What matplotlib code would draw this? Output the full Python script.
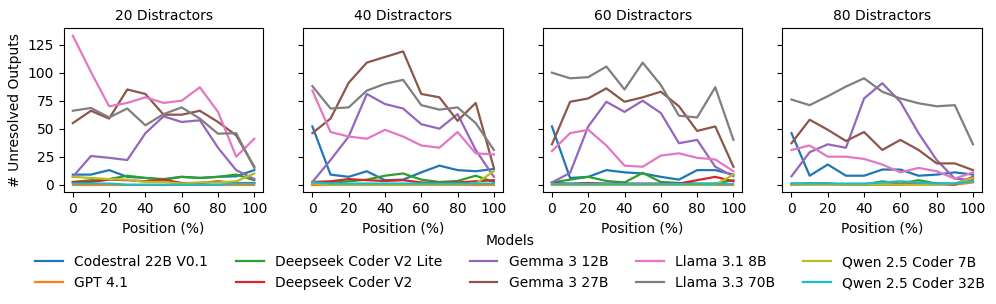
import numpy as np
import matplotlib
matplotlib.use("Agg")
import matplotlib.pyplot as plt

positions = [0, 10, 20, 30, 40, 50, 60, 70, 80, 90, 100]
distractors = [20, 40, 60, 80]

models = ["Codestral 22B V0.1", "GPT 4.1", "Deepseek Coder V2 Lite", "Deepseek Coder V2",
          "Gemma 3 12B", "Gemma 3 27B", "Llama 3.1 8B", "Llama 3.3 70B",
          "Qwen 2.5 Coder 7B", "Qwen 2.5 Coder 32B"]

# unresolved outputs per model, one list per distractor count
codestral = [
    [9, 9, 13, 7, 6, 4.5, 7, 6, 7, 7.5, 13],
    [52, 9, 7, 12, 4, 4.5, 11, 17, 13, 12, 14],
    [52, 6, 7, 13, 11, 10, 7, 4.5, 13, 13, 9],
    [46, 8, 18, 8, 8, 13.5, 13.5, 8, 9, 11, 9],
]
gpt41 = [
    [0, 0, 0, 0, 0, 0, 0, 0, 0, 0, 0],
    [0, 0, 0, 0, 0, 0, 0, 0, 0, 0, 0],
    [0, 0, 0, 0, 0, 0, 0, 0, 0, 0, 0],
    [0, 0, 0, 0, 0, 0, 0, 0, 0, 0, 2],
]
ds_lite = [
    [2.4, 4, 5, 8, 6, 5, 7, 6, 7, 9, 4],
    [1, 1.5, 3, 4.5, 8, 10, 4.5, 2.4, 3.3, 8, 2.4],
    [2, 4.5, 7, 3.3, 2, 10.5, 2.4, 1.5, 1, 1, 4],
    [1, 1, 1, 0, 0, 3, 1, 4, 1, 1, 6],
]
ds_v2 = [
    [2.4, 2.4, 4.5, 4, 3, 4.5, 1.5, 1.5, 3, 1.5, 1.5],
    [2.4, 3, 5, 4, 3.3, 4, 2, 1.5, 2, 3, 4],
    [1.5, 1, 1.5, 1, 1, 1, 1, 1, 4, 7, 3],
    [0, 1, 1, 0, 0, 0, 0, 1, 1, 0, 7],
]
gemma12 = [
    [7, 25.6, 24, 22, 46, 61, 56, 57.5, 33, 13, 5],
    [2.4, 22, 43, 81, 72, 68, 54, 50, 63, 31, 7],
    [2, 10.5, 52, 74, 65, 75, 64, 37, 40, 16, 7.5],
    [7.5, 29, 36, 33, 77, 90.6, 74, 46, 22, 5.4, 4],
]
gemma27 = [
    [55, 66, 59, 85, 81, 62.5, 62.5, 66, 56, 44, 16],
    [46, 59, 91, 109, 114, 119, 81, 78, 57, 73, 15],
    [36, 74, 77, 86, 74, 78, 83, 70, 48, 52, 16],
    [37, 58, 49, 39, 47, 31, 40, 31, 19, 19, 13],
]
llama8 = [
    [133, 100.6, 70, 73, 78, 73, 75, 87, 65, 25, 41],
    [84, 47, 43, 41, 49, 43, 35, 33, 47, 28, 27],
    [30, 46, 49, 35, 17, 16, 26, 28, 24, 22.5, 12],
    [31, 35, 25, 25, 23, 18, 11, 15, 12, 5.4, 11],
]
llama70 = [
    [66, 68.5, 60, 68, 53, 63, 69, 59, 45.5, 46, 15],
    [88, 68, 69, 84, 90, 93.6, 71, 67, 69, 55, 31],
    [100, 95, 96, 105.5, 85, 109, 89, 61.6, 60, 87, 40],
    [76, 71, 79, 87.6, 95, 83, 77, 72.7, 70, 71, 36],
]
qwen7 = [
    [7, 6, 5, 4.5, 2.4, 2.4, 1, 2, 2, 3, 10],
    [1, 0, 0, 0, 0, 0, 0, 0, 0, 1, 12],
    [0, 0, 0, 0, 0, 0, 0, 0, 0, 0, 9],
    [0, 0, 0, 0, 0, 0, 0, 0, 0, 1, 6],
]
qwen32 = [
    [1, 1, 1, 0, 0, 0, 0, 0, 0, 1, 1],
    [2, 1, 1, 1, 1, 1, 1, 1, 1, 1, 1],
    [1, 1, 1, 1, 1, 1, 1, 1, 1, 1, 1],
    [1, 1, 1, 1, 1, 2, 3, 2, 1, 1, 3],
]

series = [codestral, gpt41, ds_lite, ds_v2, gemma12, gemma27, llama8, llama70, qwen7, qwen32]

fig, axes = plt.subplots(1, 4, figsize=(9.96, 3.04), dpi=100, sharey=True)
fig.subplots_adjust(left=0.064, right=0.986, top=0.907, bottom=0.368, wspace=0.2)

for j, ax in enumerate(axes):
    for i, name in enumerate(models):
        ax.plot(positions, series[i][j], color="C%d" % i, label=name, linewidth=1.6)
    ax.set_title("%d Distractors" % distractors[j], fontsize=10)
    ax.set_xlabel("Position (%)")
    ax.set_xticks([0, 20, 40, 60, 80, 100])
axes[0].set_yticks([0, 25, 50, 75, 100, 125])
axes[0].set_ylabel("# Unresolved Outputs")

handles, labels = axes[0].get_legend_handles_labels()
fig.legend(handles, labels, loc="upper center", bbox_to_anchor=(0.512, 0.271),
           ncol=5, frameon=False, title="Models")

plt.savefig("out.png")
